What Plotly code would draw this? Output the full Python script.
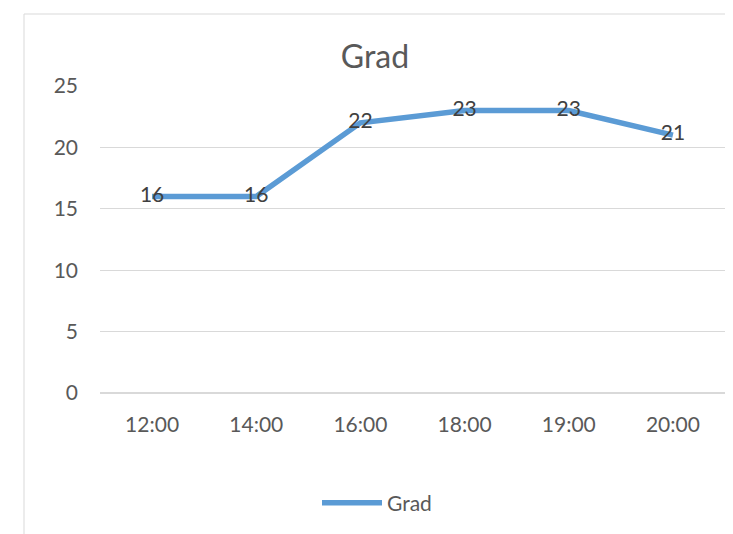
import plotly.graph_objects as go

categories = ["12:00", "14:00", "16:00", "18:00", "19:00", "20:00"]
grad = [16, 16, 22, 23, 23, 21]
y_ticks = [0, 5, 10, 15, 20, 25]

# page has an 8px body margin, so the figure is drawn 8px smaller and offset
OFF = 8
W, H = 733 - OFF, 534 - OFF
L, R, T, B = 100 - OFF, 8, 86 - OFF, 534 - 393
pw, ph = W - L - R, H - T - B

FONT = "Lato, Open Sans, sans-serif"


def px_x(p):
    return (p - OFF - L) / pw


def px_y(p):
    return (H - B - (p - OFF)) / ph


fig = go.Figure()
fig.add_trace(go.Scatter(
    x=categories, y=grad, mode="lines+text", name="Grad",
    text=[str(v) for v in grad], textposition="middle center",
    textfont=dict(size=21, color="#404040", family=FONT),
    line=dict(color="#5B9BD5", width=5.5),
    cliponaxis=False,
))

fig.add_shape(type="rect", xref="paper", yref="paper",
              x0=px_x(24), x1=px_x(726), y0=px_y(560), y1=px_y(14),
              line=dict(color="#D9D9D9", width=1), fillcolor="rgba(0,0,0,0)",
              layer="below")

fig.update_layout(
    width=W, height=H,
    margin=dict(l=L, r=R, t=T, b=B),
    paper_bgcolor="white", plot_bgcolor="white",
    font=dict(family=FONT, color="#595959", size=20),
    title=dict(text="Grad", x=(375 - OFF) / W, xanchor="center",
               y=1 - (57 - OFF) / H, yanchor="middle", yref="container",
               font=dict(size=32, color="#595959", family=FONT)),
    showlegend=True,
    legend=dict(orientation="h", x=px_x(377), xanchor="center",
                y=px_y(503), yanchor="middle",
                font=dict(size=21, color="#595959", family=FONT),
                itemwidth=60),
    xaxis=dict(type="category", range=[-0.5, 5.5], showgrid=False,
               showline=False, zeroline=False, ticks="",
               ticklabelstandoff=17, tickfont=dict(size=21, color="#595959")),
    yaxis=dict(range=[0, 25], tickvals=y_ticks, showgrid=True,
               gridcolor="#D9D9D9", gridwidth=1, zeroline=True,
               zerolinecolor="#D9D9D9", showline=False, ticks="",
               ticklabelstandoff=21, tickfont=dict(size=21, color="#595959")),
)

fig.write_html("out.html")
